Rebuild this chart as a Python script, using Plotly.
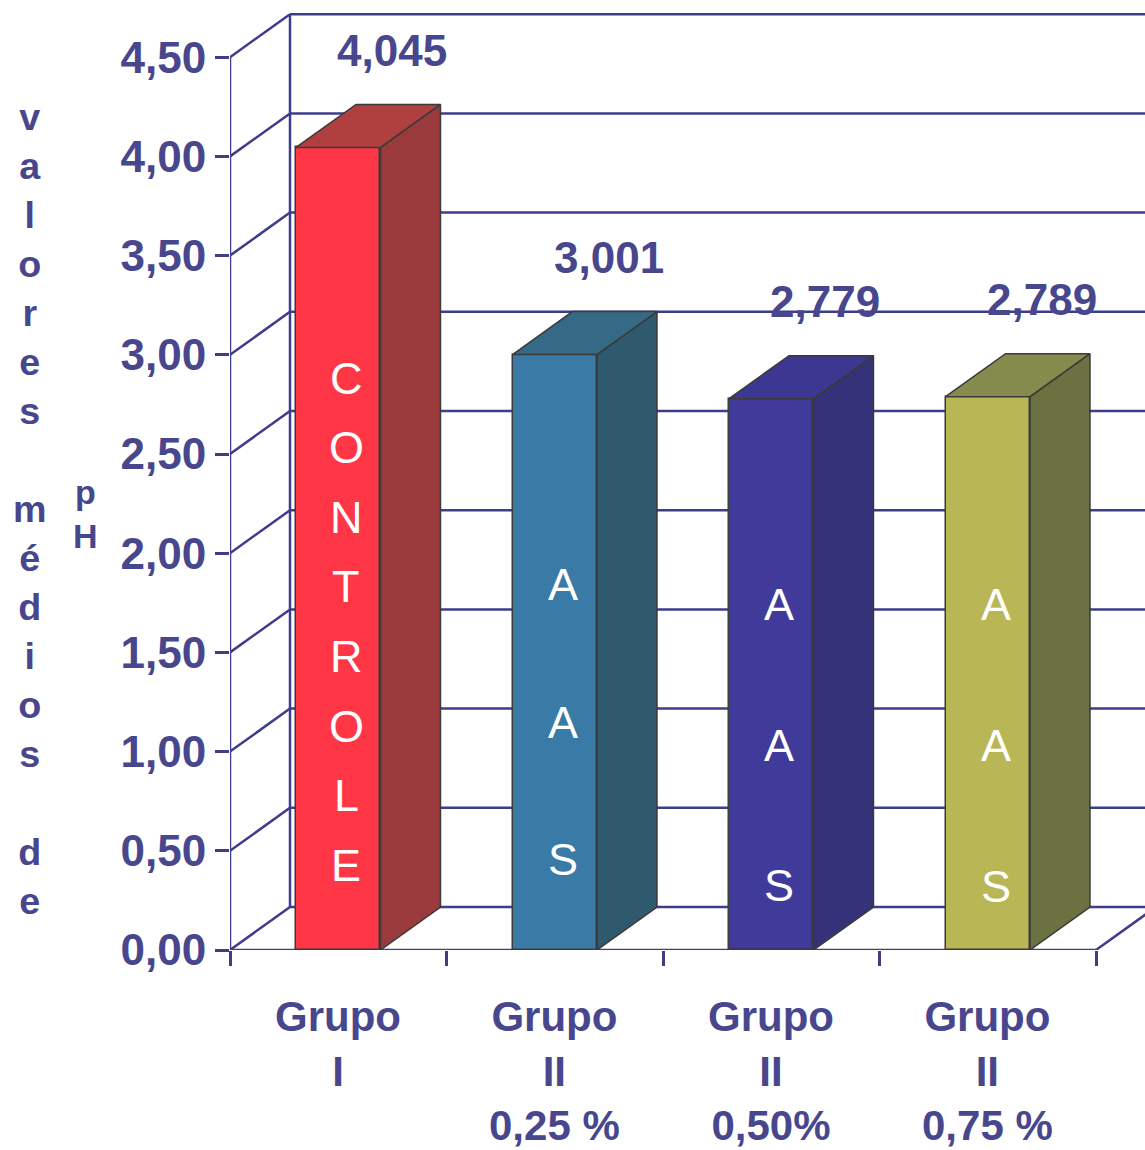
import plotly.graph_objects as go

# ---- data ----
categories = ["Grupo<br>I", "Grupo<br>II<br>0,25 %", "Grupo<br>II<br>0,50%", "Grupo<br>II<br>0,75 %"]
values = [4.045, 3.001, 2.779, 2.789]
bar_words = ["CONTROLE", "AAS", "AAS", "AAS"]
y_ticks = [0.0, 0.5, 1.0, 1.5, 2.0, 2.5, 3.0, 3.5, 4.0, 4.5]
y_tick_labels = [f"{t:.2f}".replace(".", ",") for t in y_ticks]
value_labels = [f"{v:.3f}".replace(".", ",") for v in values]
y_title = "valores médios de"

# ---- style ----
front_colors = ["#ff3646", "#3a7aa6", "#403b9a", "#b9b656"]
side_colors = ["#9a3a3c", "#2f5a6e", "#36327a", "#6b7141"]
top_colors = ["#b0403f", "#356a86", "#3c3790", "#858a4d"]
TXT = "#48478e"
LINE = "#3d3d8a"
EDGE = "#3a3a3a"
FONT = "Liberation Sans, Arial, sans-serif"

W, H = 1145, 1150
ML, MB = 230, 200
PX_PER_CAT = 216.5
PX_PER_UNIT = 198.4
BAR_W = 0.39
DX = 60 / PX_PER_CAT
DY = 43 / PX_PER_UNIT
x0 = -0.5
x_max = x0 + (W - ML) / PX_PER_CAT
y_max = (H - MB) / PX_PER_UNIT
n = len(values)

fig = go.Figure()

# ---- frame / grid (shapes, drawn below traces) ----
shapes = []
ln = dict(color=LINE, width=2.5)
shapes.append(dict(type="line", xref="x", yref="y", x0=x0, y0=0, x1=x0, y1=y_ticks[-1], line=ln, layer="below"))
shapes.append(dict(type="line", xref="x", yref="y", x0=x0 + DX, y0=DY, x1=x0 + DX, y1=y_ticks[-1] + DY, line=ln, layer="below"))
for t in y_ticks:
    shapes.append(dict(type="line", xref="x", yref="y", x0=x0, y0=t, x1=x0 + DX, y1=t + DY, line=ln, layer="below"))
    shapes.append(dict(type="line", xref="x", yref="y", x0=x0 + DX, y0=t + DY, x1=x0 + n + DX, y1=t + DY, line=ln, layer="below"))
shapes.append(dict(type="line", xref="x", yref="y", x0=x0, y0=0, x1=x0 + n, y1=0, line=ln, layer="below"))
shapes.append(dict(type="line", xref="x", yref="y", x0=x0 + n, y0=0, x1=x0 + n + DX, y1=DY, line=ln, layer="below"))

# ---- bars: front faces ----
xs = list(range(n))
fig.add_trace(go.Bar(
    x=xs, y=values, width=BAR_W,
    marker=dict(color=front_colors, line=dict(color=EDGE, width=1.5)),
    hoverinfo="skip", showlegend=False,
))

# ---- bars: side and top faces ----
for i, v in enumerate(values):
    xl, xr = i - BAR_W / 2, i + BAR_W / 2
    fig.add_trace(go.Scatter(
        x=[xr, xr + DX, xr + DX, xr, xr], y=[0, DY, v + DY, v, 0],
        fill="toself", fillcolor=side_colors[i], mode="lines",
        line=dict(color=EDGE, width=1.5), hoverinfo="skip", showlegend=False,
    ))
    fig.add_trace(go.Scatter(
        x=[xl, xr, xr + DX, xl + DX, xl], y=[v, v, v + DY, v + DY, v],
        fill="toself", fillcolor=top_colors[i], mode="lines",
        line=dict(color=EDGE, width=1.5), hoverinfo="skip", showlegend=False,
    ))

annotations = []
for i, v in enumerate(values):
    annotations.append(dict(
        x=i + DX * 0.9, y=v + DY, xref="x", yref="y", text=value_labels[i],
        showarrow=False, yanchor="middle", yshift=54,
        font=dict(family=FONT, size=44, color=TXT, weight="bold"),
    ))

# vertical words inside bars (start position, step in axis units)
word_start = [2.883, 1.84, 1.739, 1.739]
word_step = [0.351, 0.693, 0.706, 0.71]
for i, word in enumerate(bar_words):
    for k, ch in enumerate(word):
        annotations.append(dict(
            x=i, y=word_start[i] - k * word_step[i], xref="x", yref="y", text=ch,
            showarrow=False, xshift=8, yanchor="middle",
            font=dict(family=FONT, size=45, color="white"),
        ))

for i, c in enumerate(categories):
    annotations.append(dict(
        x=i, y=0, xref="x", yref="y", text=c, showarrow=False,
        yanchor="top", yshift=-41,
        font=dict(family=FONT, size=42, color=TXT, weight="bold"),
    ))

title_lines = "<br>".join(ch if ch != " " else "&nbsp;" for ch in y_title)
annotations.append(dict(
    x=0, xref="paper", xshift=-200, y=(H - MB - 118) / PX_PER_UNIT, yref="y",
    text=title_lines, showarrow=False, xanchor="center", yanchor="top", yshift=24,
    font=dict(family=FONT, size=37.7, color=TXT, weight="bold"),
))
annotations.append(dict(
    x=0, xref="paper", xshift=-145, y=(H - MB - 493) / PX_PER_UNIT, yref="y",
    text="p<br>H", showarrow=False, xanchor="center", yanchor="top", yshift=22,
    font=dict(family=FONT, size=34, color=TXT, weight="bold"),
))

fig.update_layout(
    width=W, height=H,
    margin=dict(l=ML, r=0, t=0, b=MB, pad=0),
    plot_bgcolor="white", paper_bgcolor="white",
    shapes=shapes, annotations=annotations,
    bargap=0, showlegend=False,
    xaxis=dict(range=[x0, x_max], showgrid=False, zeroline=False, showline=False,
               tickvals=[x0 + k for k in range(n + 1)], ticktext=[""] * (n + 1),
               ticks="outside", ticklen=15, tickwidth=2.5, tickcolor=LINE, fixedrange=True),
    yaxis=dict(range=[0, y_max], showgrid=False, zeroline=False, showline=False,
               tickvals=y_ticks, ticktext=y_tick_labels,
               ticks="outside", ticklen=14, tickwidth=2.5, tickcolor=LINE,
               tickfont=dict(family=FONT, size=44, color=TXT, weight="bold"),
               fixedrange=True),
)

fig.write_html("out.html")
